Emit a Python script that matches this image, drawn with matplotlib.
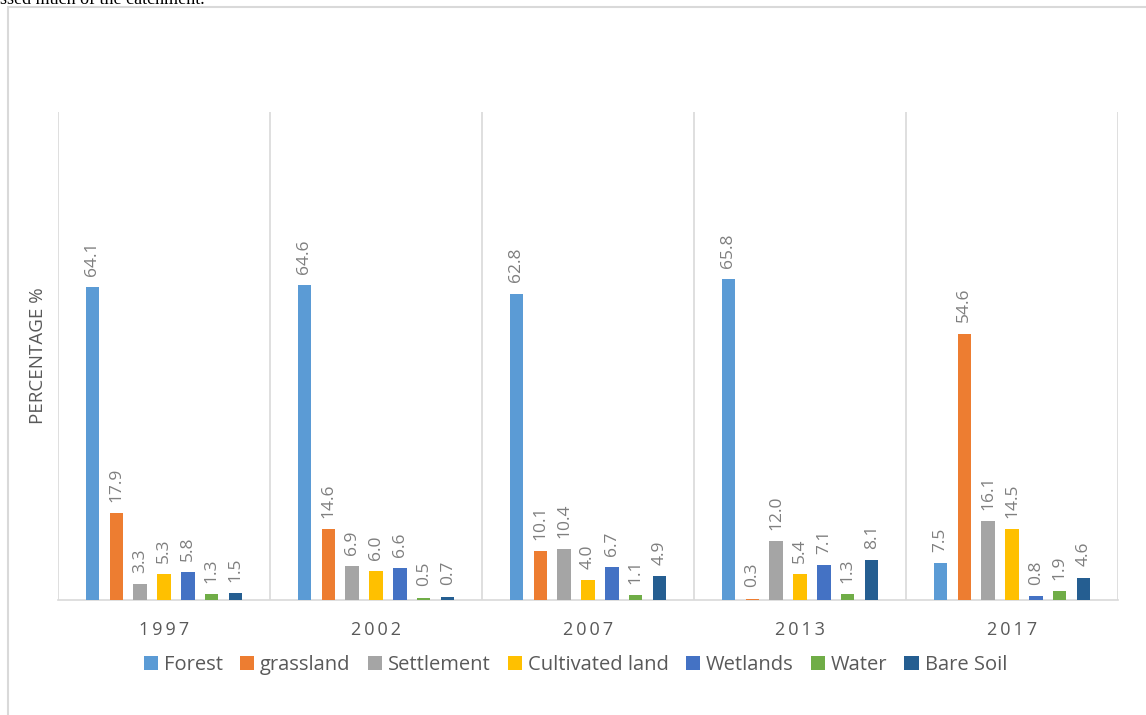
import matplotlib.pyplot as plt
import matplotlib.patches as mpatches
import numpy as np

# land cover share per year (percent)
years = ['1997', '2002', '2007', '2013', '2017']
classes = ['Forest', 'grassland', 'Settlement', 'Cultivated land', 'Wetlands', 'Water', 'Bare Soil']
forest = [64.1, 64.6, 62.8, 65.8, 7.5]
grassland = [17.9, 14.6, 10.1, 0.3, 54.6]
settlement = [3.3, 6.9, 10.4, 12.0, 16.1]
cultivated = [5.3, 6.0, 4.0, 5.4, 14.5]
wetlands = [5.8, 6.6, 6.7, 7.1, 0.8]
water = [1.3, 0.5, 1.1, 1.3, 1.9]
bare_soil = [1.5, 0.7, 4.9, 8.1, 4.6]

series = [forest, grassland, settlement, cultivated, wetlands, water, bare_soil]
colors = ['#5B9BD5', '#ED7D31', '#A5A5A5', '#FFC000', '#4472C4', '#70AD47', '#255E91']

W, H = 1146, 715
fig = plt.figure(figsize=(W / 100, H / 100), dpi=100)
plt.rcParams['font.family'] = ['Open Sans', 'DejaVu Sans']

# outer frame of the chart, partly off the page
fig.patches.append(mpatches.Rectangle((8 / W, -0.2), 2, 1.2 - 7 / H, transform=fig.transFigure,
                                      fill=False, edgecolor='#D9D9D9', linewidth=1.5))
# leftover text from the document above the chart (cut at the page top, as in the source)
fig.text(0.0, 1.0 + 1 / H, 'ssed much of the catchment.', family='Liberation Serif',
         fontsize=13, color='black', ha='left', va='center')

ax = fig.add_axes([58 / W, (H - 600) / H, 1060 / W, 488 / H])
x = np.arange(len(years))
step = 0.113
width = 0.062
for i, (vals, col, name) in enumerate(zip(series, colors, classes)):
    pos = x + (i - 3) * step
    ax.bar(pos, vals, width=width, color=col, label=name, zorder=3)
    for p, v in zip(pos, vals):
        ax.annotate(f'{v:.1f}', (p, v), xytext=(0, 8), textcoords='offset points',
                    rotation=90, ha='center', va='bottom', fontsize=12.5, color='#7F7F7F')

for b in np.arange(-0.5, len(years), 1.0):
    ax.axvline(b, color='#D9D9D9', linewidth=1.2, zorder=1)

ax.set_xlim(-0.5, len(years) - 0.5)
ax.set_ylim(0, 100)
ax.set_yticks([])
for s in ['top', 'right', 'left']:
    ax.spines[s].set_visible(False)
ax.spines['bottom'].set_color('#D9D9D9')
ax.spines['bottom'].set_linewidth(1.2)
ax.set_xticks(x)
ax.set_xticklabels(['\u2009'.join(y) for y in years], fontsize=13, color='#595959')
ax.tick_params(axis='x', length=0, pad=15)
ax.set_ylabel('PERCENTAGE %', fontsize=13.5, color='#595959', labelpad=8)

ax.legend(loc='upper center', bbox_to_anchor=(0.488, -0.075), ncol=7, frameon=False,
          fontsize=14.5, labelcolor='#595959', handlelength=0.7, handleheight=0.7,
          handletextpad=0.3, columnspacing=0.85)

fig.savefig('out.png', dpi=100)
